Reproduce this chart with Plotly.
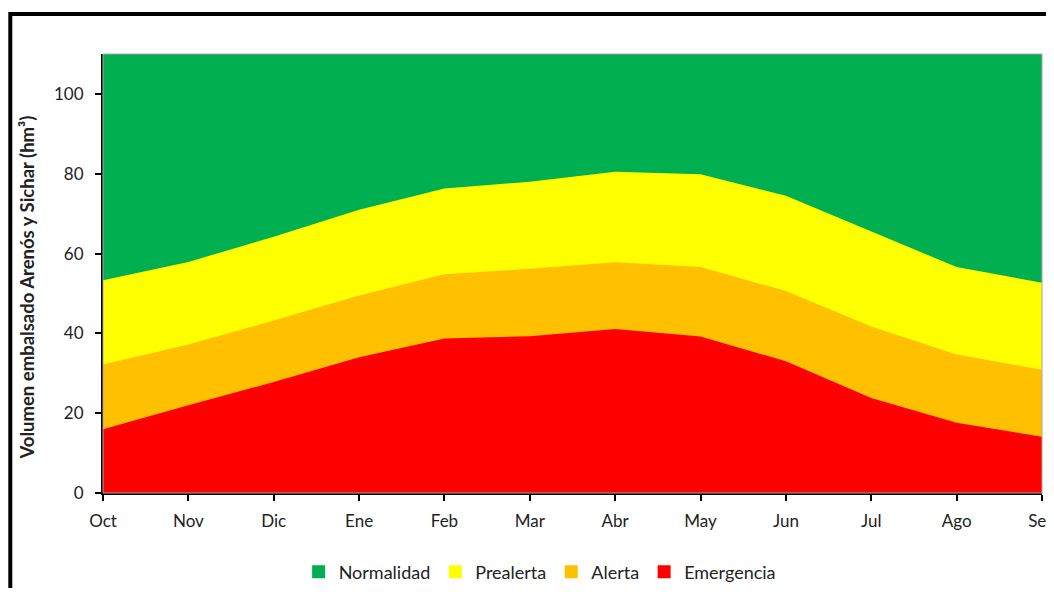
import plotly.graph_objects as go

months = ["Oct", "Nov", "Dic", "Ene", "Feb", "Mar", "Abr", "May", "Jun", "Jul", "Ago", "Sep"]
# Upper boundary of each zone (hm3)
normalidad = [110, 110, 110, 110, 110, 110, 110, 110, 110, 110, 110, 110]
prealerta = [53.3, 57.9, 64.2, 71.0, 76.3, 78.0, 80.5, 79.9, 74.5, 65.5, 56.6, 52.7]
alerta = [32.2, 37.2, 43.2, 49.5, 54.8, 56.2, 57.8, 56.6, 50.6, 41.7, 34.7, 30.9]
emergencia = [16.0, 22.0, 27.8, 34.0, 38.7, 39.3, 41.1, 39.2, 33.0, 23.8, 17.6, 14.1]
yticks = [0, 20, 40, 60, 80, 100]

names = ["Normalidad", "Prealerta", "Alerta", "Emergencia"]
series = [normalidad, prealerta, alerta, emergencia]
colors = ["#00B050", "#FFFF00", "#FFC000", "#FF0000"]

x = list(range(len(months)))
fig = go.Figure()
for n, s, c in zip(names, series, colors):
    fig.add_trace(go.Scatter(
        x=x, y=s, name=n, mode="lines", fill="tozeroy", legendgroup=n,
        fillcolor=c, line=dict(width=0, color=c), showlegend=False,
        hoverinfo="x+y+name",
    ))
for n, c in zip(names, colors):
    fig.add_trace(go.Scatter(
        x=[None], y=[None], name=n, mode="markers", legendgroup=n,
        marker=dict(symbol="square", size=13, color=c), showlegend=True,
    ))

font = "Lato, Carlito, 'Open Sans', sans-serif"
W, H = 1046, 580  # page has an 8px body margin
fig.update_layout(
    width=W, height=H,
    margin=dict(l=95, r=12, t=46, b=95, autoexpand=False),
    paper_bgcolor="white", plot_bgcolor="white",
    font=dict(family=font, size=17, color="#222222"),
    showlegend=True,
    legend=dict(orientation="h", x=0.465, xanchor="center", y=-0.18, yanchor="middle",
                font=dict(size=18), itemwidth=30, traceorder="normal",
                bgcolor="rgba(0,0,0,0)"),
    xaxis=dict(range=[0, 11], tickvals=x, ticktext=months, showgrid=False, zeroline=False,
               showline=True, linecolor="black", linewidth=2, ticks="outside",
               ticklen=6, tickwidth=2, tickcolor="black", tickfont=dict(size=17),
               ticklabelstandoff=6, ticklabeloverflow="allow"),
    yaxis=dict(range=[0, 110], tickvals=yticks, showgrid=False, zeroline=False,
               showline=True, linecolor="black", linewidth=2, ticks="outside",
               ticklen=6, tickwidth=2, tickcolor="black", tickfont=dict(size=17),
               ticklabelstandoff=8),
    shapes=[
        dict(type="rect", xref="paper", yref="paper", x0=0, x1=1, y0=0, y1=1,
             line=dict(color="#a6a6a6", width=1), layer="above"),
        dict(type="rect", xref="paper", yref="paper",
             x0=(10.3 - 103) / 939, x1=(1070 - 103) / 939,
             y0=(493 - 620) / 439, y1=(493 - 14) / 439,
             line=dict(color="black", width=4)),
    ],
    annotations=[
        dict(text="<b>Volumen embalsado Arenós y Sichar (hm³)</b>", textangle=-90,
             xref="paper", yref="paper", x=(27 - 103) / 939, y=0.468,
             xanchor="center", yanchor="middle", showarrow=False,
             font=dict(size=18.5, color="#222222")),
    ],
)
fig.write_html("out.html")
